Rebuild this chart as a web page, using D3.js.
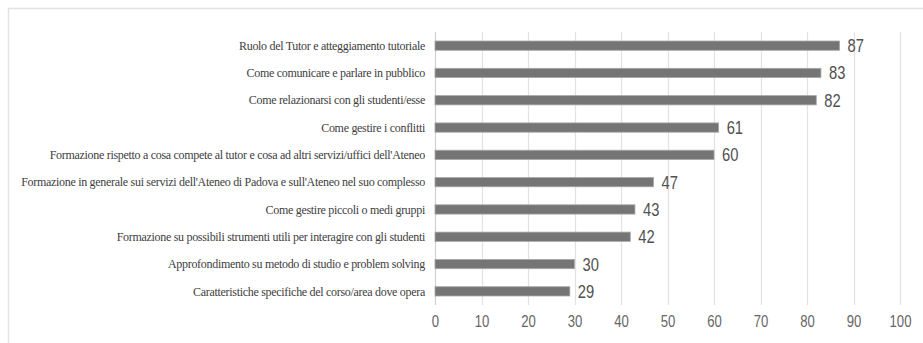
<!DOCTYPE html>
<html>
<head>
<meta charset="utf-8">
<script src="https://cdn.jsdelivr.net/npm/d3@7"></script>
<style>
  body { margin: 0; background: #fff; }
  svg { display: block; }
</style>
</head>
<body>
<div id="chart"></div>
<script>
// categories, top to bottom
var categories = [
    "Ruolo del Tutor e atteggiamento tutoriale",
    "Come comunicare e parlare in pubblico",
    "Come relazionarsi con gli studenti/esse",
    "Come gestire i conflitti",
    "Formazione rispetto a cosa compete al tutor e cosa ad altri servizi/uffici dell'Ateneo",
    "Formazione in generale sui servizi dell'Ateneo di Padova e sull'Ateneo nel suo complesso",
    "Come gestire piccoli o medi gruppi",
    "Formazione su possibili strumenti utili  per interagire con gli studenti",
    "Approfondimento su metodo di studio e problem  solving",
    "Caratteristiche specifiche del corso/area dove opera"
]
var values = [87, 83, 82, 61, 60, 47, 43, 42, 30, 29]
var tickValues = [0, 10, 20, 30, 40, 50, 60, 70, 80, 90, 100]

var width = 923, height = 343
var margin = { top: 32, right: 23, bottom: 40, left: 435 }
var narrow = 0.82  // no narrow font installed, squeeze numbers instead

var svg = d3.select("#chart")
    .append("svg")
    .attr("width", width)
    .attr("height", height)

// outer frame
svg.append("rect")
    .attr("x", 8.5)
    .attr("y", 8.5)
    .attr("width", width)
    .attr("height", height)
    .attr("fill", "none")
    .attr("stroke", "#e3e3e3")
    .attr("stroke-width", 1.5)

var x = d3.scaleLinear()
    .domain([0, 100])
    .range([margin.left, width - margin.right])

var y = d3.scaleBand()
    .domain(categories)
    .range([margin.top, height - margin.bottom + 2])
    .paddingInner(0.66)
    .paddingOuter(0.33)

// gridlines
svg.append("g")
    .selectAll("line")
    .data(tickValues)
    .enter()
    .append("line")
    .attr("x1", function(d) { return Math.round(x(d)) + 0.5 })
    .attr("x2", function(d) { return Math.round(x(d)) + 0.5 })
    .attr("y1", margin.top)
    .attr("y2", height - margin.bottom + 2)
    .attr("stroke", function(d) { return d == 0 ? "#d0d0d0" : "#e2e2e2" })
    .attr("stroke-width", 1.2)

// x axis labels
var xAxis = d3.axisBottom(x)
    .tickValues(tickValues)
    .tickSize(0)
    .tickPadding(0)

var axisG = svg.append("g")
    .attr("transform", "translate(0," + (height - margin.bottom + 13) + ")")
    .call(xAxis)
    .call(function(g) { g.select(".domain").remove() })

axisG.selectAll("text")
    .attr("fill", "#666")
    .attr("transform", "scale(" + narrow + ",1)")
    .style("font", "16px 'Liberation Sans', Arial, sans-serif")

// category labels
svg.append("g")
    .selectAll("text")
    .data(categories)
    .enter()
    .append("text")
    .attr("x", margin.left - 10)
    .attr("y", function(d) { return y(d) + y.bandwidth() / 2 })
    .attr("dy", "0.35em")
    .attr("text-anchor", "end")
    .attr("fill", "#404040")
    .style("font", "12px 'Liberation Serif', 'Times New Roman', serif")
    .style("letter-spacing", "-0.3px")
    .text(function(d) { return d })

// bars
svg.append("g")
    .selectAll("rect")
    .data(values)
    .enter()
    .append("rect")
    .attr("x", x(0))
    .attr("y", function(d, i) { return y(categories[i]) })
    .attr("width", function(d) { return x(d) - x(0) })
    .attr("height", y.bandwidth())
    .attr("fill", "#757575")
    .attr("stroke", "#a8a8a8")
    .attr("stroke-width", 0.8)

// value labels
svg.append("g")
    .selectAll("text")
    .data(values)
    .enter()
    .append("text")
    .attr("transform", function(d, i) {
        return "translate(" + (x(d) + 8) + "," + (y(categories[i]) + y.bandwidth() / 2) + ") scale(" + narrow + ",1)"
    })
    .attr("dy", "0.36em")
    .attr("fill", "#505050")
    .style("font", "18px 'Liberation Sans', Arial, sans-serif")
    .text(function(d) { return d })
</script>
</body>
</html>
